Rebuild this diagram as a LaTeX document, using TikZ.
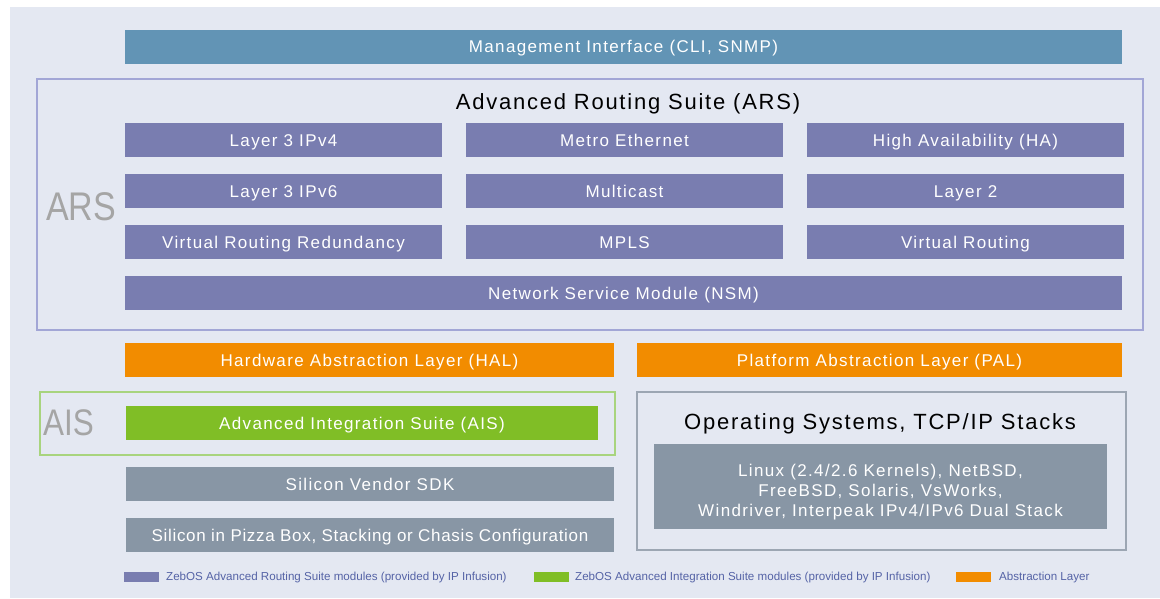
\documentclass[tikz,border=0pt]{standalone}
\usepackage{fontspec}
\setmainfont{Liberation Sans}
\newfontfamily\boxfont[LetterSpace=8]{Liberation Sans}
\newfontfamily\tightfont[LetterSpace=4]{Liberation Sans}
\newfontfamily\labelfont[FakeStretch=0.85]{Liberation Sans}
\usetikzlibrary{positioning}
\definecolor{pagebg}{HTML}{E4E8F2}
\definecolor{mgmtblue}{HTML}{6294B5}
\definecolor{arspurple}{HTML}{797DB0}
\definecolor{arsline}{HTML}{A2A6D6}
\definecolor{abstorange}{HTML}{F28C00}
\definecolor{aisgreen}{HTML}{80BE26}
\definecolor{aisline}{HTML}{A8D47E}
\definecolor{siliconGray}{HTML}{8896A5}
\definecolor{osline}{HTML}{9CA6B3}
\definecolor{legendtext}{HTML}{5563A6}
\definecolor{biglabel}{HTML}{A5A5A5}
\tikzset{
  modbox/.style={rectangle, fill=arspurple, text=white, inner sep=0pt, outer sep=0pt,
                 minimum width=317pt, minimum height=34pt, text height=12pt, text depth=0pt,
                 font=\boxfont\fontsize{17}{20}\selectfont},
  layerbox/.style={modbox, fill=abstorange},
  sdkbox/.style={modbox, fill=siliconGray, minimum width=488pt},
  framebox/.style={rectangle, draw=#1, line width=1.2pt, inner sep=0pt, outer sep=0pt},
  bigtag/.style={text=biglabel, inner sep=0pt, font=\labelfont\fontsize{40}{44}\selectfont},
  heading/.style={inner sep=0pt, text height=16pt, text depth=0pt, font=\boxfont\fontsize{22}{26}\selectfont},
  swatch/.style={rectangle, fill=#1, minimum width=35pt, minimum height=10pt, inner sep=0pt},
  legendlabel/.style={anchor=west, inner sep=0pt, text=legendtext,
                      font=\fontsize{11.6}{14}\selectfont},
}
\begin{document}
\begin{tikzpicture}[x=1pt, y=-1pt, node distance=17pt]
  \fill[white] (0,0) rectangle (1160,598);
  \fill[pagebg] (10,7) rectangle (1160,598);
  \useasboundingbox (0,0) rectangle (1160,598);
  % management bar
  \node[modbox, fill=mgmtblue, minimum width=997pt] (mgmt) at (623.5,46.5) {Management Interface (CLI, SNMP)};
  % ARS block
  \node[framebox=arsline, minimum width=1106pt, minimum height=251pt] (arsframe) at (590,204.5) {};
  \node[heading] (arstitle) at (628,101) {Advanced Routing Suite (ARS)};
  \node[bigtag] (arstag) at (81,207) {ARS};
  \node[modbox] (ipv4) at (283.5,140) {Layer 3 IPv4};
  \node[modbox, right=24pt of ipv4] (metro) {Metro Ethernet};
  \node[modbox, right=24pt of metro] (ha) {High Availability (HA)};
  \node[modbox, below=of ipv4] (ipv6) {Layer 3 IPv6};
  \node[modbox, right=24pt of ipv6] (mcast) {Multicast};
  \node[modbox, right=24pt of mcast] (layer2) {Layer 2};
  \node[modbox, below=of ipv6] (vrr) {Virtual Routing Redundancy};
  \node[modbox, right=24pt of vrr] (mpls) {MPLS};
  \node[modbox, right=24pt of mpls] (vrouting) {Virtual Routing};
  \node[modbox, minimum width=997pt, below=of vrr.south west, anchor=north west] (nsm) {Network Service Module (NSM)};
  % abstraction layers
  \node[layerbox, minimum width=489pt] (hal) at (369.5,360) {Hardware Abstraction Layer (HAL)};
  \node[layerbox, minimum width=485pt] (pal) at (879.5,360) {Platform Abstraction Layer (PAL)};
  % AIS block
  \node[framebox=aisline, minimum width=575pt, minimum height=63pt] (aisframe) at (327.5,423.5) {};
  \node[bigtag, font=\labelfont\fontsize{37}{40}\selectfont] (aistag) at (68.5,423) {AIS};
  \node[modbox, fill=aisgreen, minimum width=472pt] (ais) at (362,423) {Advanced Integration Suite (AIS)};
  \node[sdkbox] (sdk) at (370,484) {Silicon Vendor SDK};
  \node[sdkbox, below=of sdk, font=\tightfont\fontsize{17}{20}\selectfont] (pizza) {Silicon in Pizza Box, Stacking or Chasis Configuration};
  % OS block
  \node[framebox=osline, minimum width=489pt, minimum height=158pt] (osframe) at (881.5,471) {};
  \node[heading] (ostitle) at (880,421) {Operating Systems, TCP/IP Stacks};
  \node[modbox, fill=siliconGray, minimum width=453pt, minimum height=85pt, align=center,
        text height=59pt, text depth=0pt] (osinner) at (880.5,486.5)
        {Linux (2.4/2.6 Kernels), NetBSD,\\FreeBSD, Solaris, VsWorks,\\Windriver, Interpeak IPv4/IPv6 Dual Stack};
  % legend
  \node[swatch=arspurple] (keyars) at (141.5,577) {};
  \node[legendlabel] (keyarstext) at (166,577) {ZebOS Advanced Routing Suite modules (provided by IP Infusion)};
  \node[swatch=aisgreen] (keyais) at (551.5,577) {};
  \node[legendlabel] (keyaistext) at (575,577) {ZebOS Advanced Integration Suite modules (provided by IP Infusion)};
  \node[swatch=abstorange] (keyabs) at (973.5,577) {};
  \node[legendlabel] (keyabstext) at (999,577) {Abstraction Layer};
\end{tikzpicture}
\end{document}
